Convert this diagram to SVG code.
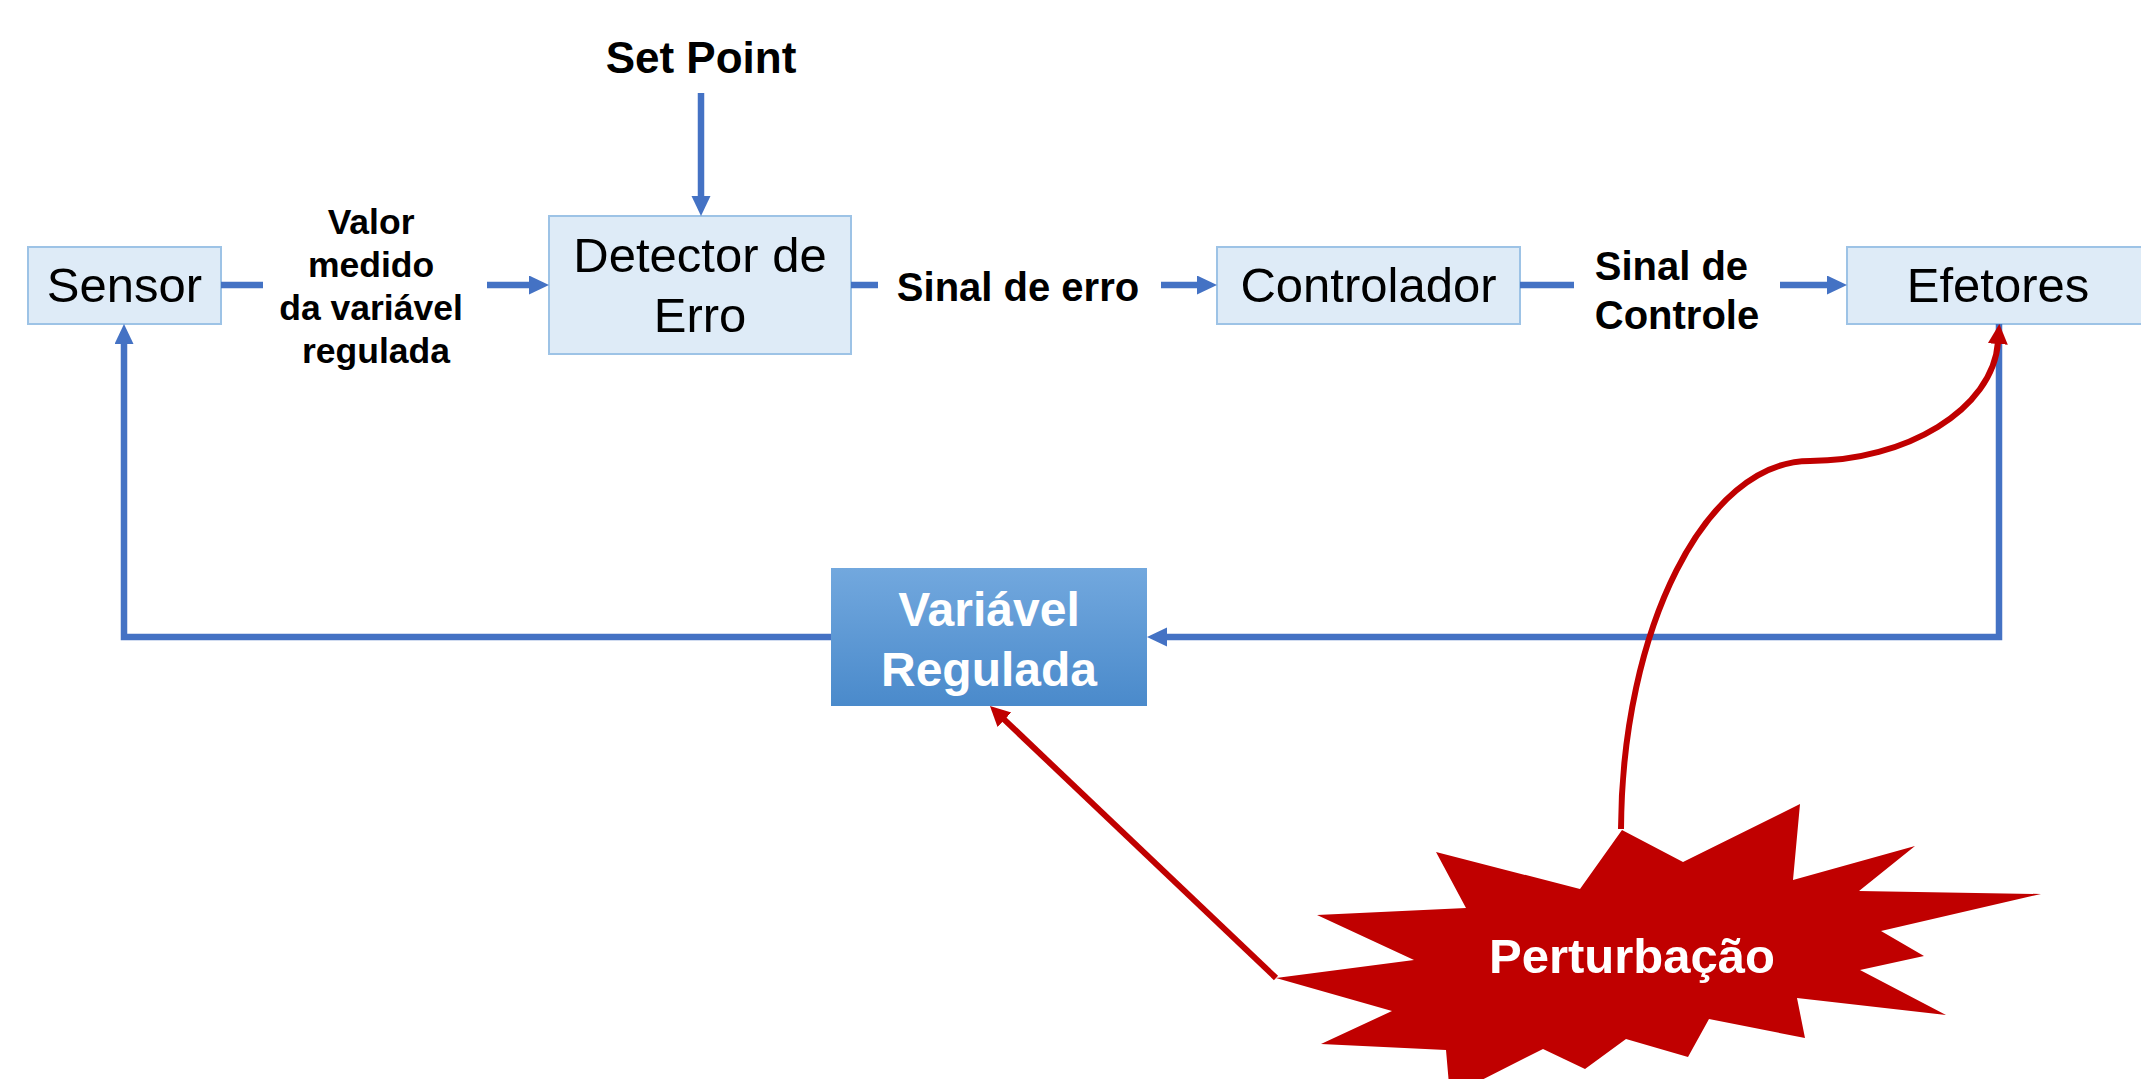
<svg xmlns="http://www.w3.org/2000/svg" width="2141" height="1079" viewBox="0 0 2141 1079">
  <defs>
    <style>
      text { font-family: "Liberation Sans", Arial, sans-serif; }
      .box { fill: #DEEBF7; stroke: #9DC3E6; stroke-width: 2; }
      .node-text { font-size: 49px; fill: #000; text-anchor: middle; }
      .label { font-weight: bold; fill: #000; text-anchor: middle; }
      .blue { fill: none; stroke: #4472C4; stroke-width: 6.5; }
      .red { fill: none; stroke: #C00000; stroke-width: 6; }
    </style>
    <linearGradient id="regGrad" x1="0" y1="0" x2="0" y2="1">
      <stop offset="0" stop-color="#72A8DE"/>
      <stop offset="1" stop-color="#4A8ACB"/>
    </linearGradient>
    <marker id="arrowBlue" markerUnits="userSpaceOnUse" markerWidth="20" markerHeight="20" refX="2" refY="9.5" orient="auto">
      <path d="M0,0 L20,9.5 L0,19 Z" fill="#4472C4"/>
    </marker>
    <marker id="arrowRed" markerUnits="userSpaceOnUse" markerWidth="21" markerHeight="21" refX="2" refY="10" orient="auto">
      <path d="M0,0 L20,10 L0,20 Z" fill="#C00000"/>
    </marker>
  </defs>

  <rect width="2141" height="1079" fill="#FFFFFF"/>

  <!-- blocks -->
  <g id="sensor">
    <rect class="box" x="28" y="247" width="193" height="77"/>
    <text class="node-text" x="124.5" y="302">Sensor</text>
  </g>
  <g id="detector">
    <rect class="box" x="549" y="216" width="302" height="138"/>
    <text class="node-text" x="700" y="272">Detector de</text>
    <text class="node-text" x="700" y="332">Erro</text>
  </g>
  <g id="controlador">
    <rect class="box" x="1217" y="247" width="303" height="77"/>
    <text class="node-text" x="1368.5" y="302">Controlador</text>
  </g>
  <g id="efetores">
    <rect class="box" x="1847" y="247" width="303" height="77"/>
    <text class="node-text" x="1998" y="302">Efetores</text>
  </g>
  <g id="variavel-regulada">
    <rect x="831" y="568" width="316" height="138" fill="url(#regGrad)"/>
    <text x="989" y="626" font-size="48" font-weight="bold" fill="#FFFFFF" text-anchor="middle">Variável</text>
    <text x="989" y="686" font-size="48" font-weight="bold" fill="#FFFFFF" text-anchor="middle">Regulada</text>
  </g>
  <g id="perturbacao">
    <polygon fill="#C00000" points="1622,830 1683,862 1800,804 1793,880 1915,846 1859,891 2041,894 1881,931 1924,956 1860,970 1946,1015 1797,998 1805,1038 1709,1019 1688,1057 1626,1039 1585,1069 1543,1049 1450,1096 1446,1050 1321,1044 1392,1011 1276,978 1414,960 1317,915 1466,908 1436,852 1580,889"/>
    <text x="1632" y="973" font-size="49" font-weight="bold" fill="#FFFFFF" text-anchor="middle">Perturbação</text>
  </g>

  <!-- signal labels -->
  <g id="labels">
    <text class="label" x="701" y="73" font-size="44">Set Point</text>
    <text class="label" font-size="35.5">
      <tspan x="376" y="234">Valor</tspan>
      <tspan x="376" y="277">medido</tspan>
      <tspan x="376" y="320">da variável</tspan>
      <tspan x="376" y="363">regulada</tspan>
    </text>
    <text class="label" x="1018" y="301" font-size="40">Sinal de erro</text>
    <text class="label" font-size="40">
      <tspan x="1677" y="280">Sinal de</tspan>
      <tspan x="1677" y="329">Controle</tspan>
    </text>
  </g>

  <!-- connectors -->
  <g id="connectors">
    <line class="blue" x1="701" y1="93" x2="701" y2="198" marker-end="url(#arrowBlue)"/>
    <line class="blue" x1="221" y1="285" x2="263" y2="285"/>
    <line class="blue" x1="487" y1="285" x2="531" y2="285" marker-end="url(#arrowBlue)"/>
    <line class="blue" x1="851" y1="285" x2="878" y2="285"/>
    <line class="blue" x1="1161" y1="285" x2="1199" y2="285" marker-end="url(#arrowBlue)"/>
    <line class="blue" x1="1520" y1="285" x2="1574" y2="285"/>
    <line class="blue" x1="1780" y1="285" x2="1829" y2="285" marker-end="url(#arrowBlue)"/>
    <polyline class="blue" points="1999,324 1999,637 1165,637" marker-end="url(#arrowBlue)"/>
    <polyline class="blue" points="831,637 124,637 124,342" marker-end="url(#arrowBlue)"/>

    <line class="red" x1="1276" y1="978" x2="1003" y2="718.4" marker-end="url(#arrowRed)"/>
    <path class="red" d="M1621,829 C1622,630 1705,461 1810,461 C1905,461 1993,410 1998,342" marker-end="url(#arrowRed)"/>
  </g>
</svg>
